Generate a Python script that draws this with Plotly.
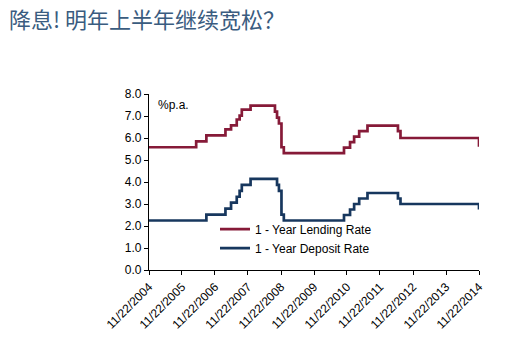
import plotly.graph_objects as go

# Benchmark rate changes (effective dates) and the 1-year rates after each change
change_dates = [
    "2004-11-22", "2006-04-28", "2006-08-19", "2007-03-18", "2007-05-19",
    "2007-07-21", "2007-08-22", "2007-09-15", "2007-12-21", "2008-09-16",
    "2008-10-09", "2008-10-30", "2008-11-27", "2008-12-23", "2010-10-20",
    "2010-12-26", "2011-02-09", "2011-04-06", "2011-07-07", "2012-06-08",
    "2012-07-06", "2014-11-22",
]
lending_rate = [
    5.58, 5.85, 6.12, 6.39, 6.57,
    6.84, 7.02, 7.29, 7.47, 7.20,
    6.93, 6.66, 5.58, 5.31, 5.56,
    5.81, 6.06, 6.31, 6.56, 6.31,
    6.00, 5.60,
]
deposit_rate = [
    2.25, 2.25, 2.52, 2.79, 3.06,
    3.33, 3.60, 3.87, 4.14, 4.14,
    3.87, 3.60, 2.52, 2.25, 2.50,
    2.75, 3.00, 3.25, 3.50, 3.25,
    3.00, 2.75,
]

tick_years = list(range(2004, 2015))
tick_vals = [f"{y}-11-22" for y in tick_years]
tick_text = [f"11/22/{y}" for y in tick_years]
y_ticks = [0, 1, 2, 3, 4, 5, 6, 7, 8]

LEND_COLOR = "#861A38"
DEP_COLOR = "#17375E"

fig = go.Figure()
fig.add_trace(go.Scatter(
    x=change_dates, y=lending_rate, mode="lines", line_shape="hv",
    line=dict(color=LEND_COLOR, width=2.7), name="1 - Year Lending Rate",
))
fig.add_trace(go.Scatter(
    x=change_dates, y=deposit_rate, mode="lines", line_shape="hv",
    line=dict(color=DEP_COLOR, width=2.7), name="1 - Year Deposit Rate",
))

fig.update_layout(
    width=506, height=341,
    margin=dict(l=149, r=27, t=94, b=71),
    paper_bgcolor="white", plot_bgcolor="white",
    font=dict(family="Arial, Liberation Sans, sans-serif", color="#000000"),
    showlegend=True,
    legend=dict(
        x=0.2, y=0.315, xanchor="left", yanchor="top",
        bgcolor="rgba(255,255,255,0)", font=dict(size=12, color="#000"),
        tracegroupgap=0, itemwidth=30,
    ),
    xaxis=dict(
        type="date", range=["2004-11-22", "2014-11-22"],
        tickmode="array", tickvals=tick_vals, ticktext=tick_text,
        tickangle=-45, tickfont=dict(size=12), automargin=False,
        showline=True, linecolor="#000", linewidth=1.2,
        ticks="outside", ticklen=4, tickcolor="#000",
        showgrid=False, zeroline=False,
    ),
    yaxis=dict(
        range=[0, 8], tickmode="array", tickvals=y_ticks,
        ticktext=[f"{v:.1f}" for v in y_ticks],
        tickfont=dict(size=12), automargin=False,
        showline=True, linecolor="#000", linewidth=1.2,
        ticks="outside", ticklen=4, tickcolor="#000",
        showgrid=False, zeroline=False,
    ),
    annotations=[
        dict(text="%p.a.", xref="paper", yref="paper", x=0.02, y=0.99,
             xanchor="left", yanchor="top", showarrow=False,
             font=dict(size=12, color="#000")),
        dict(text="降息! 明年上半年继续宽松？", xref="paper", yref="paper",
             x=(7 - 149) / 330, y=1 + (94 - 18) / 176, xanchor="left", yanchor="middle",
             showarrow=False,
             font=dict(size=22, color="#3A5C80",
                       family="Noto Sans CJK SC, sans-serif")),
    ],
)

fig.write_html("out.html")
